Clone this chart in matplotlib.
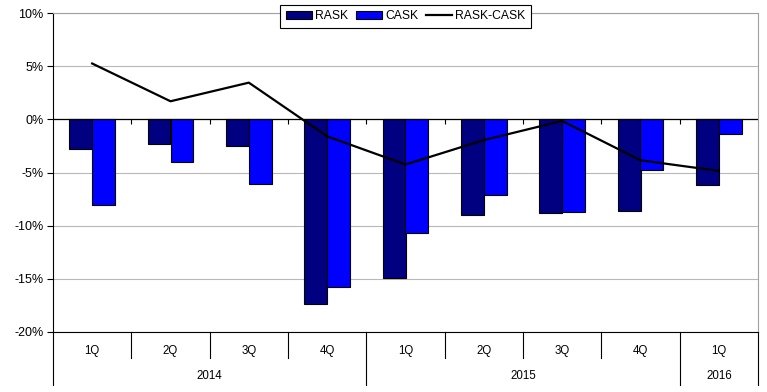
import matplotlib.pyplot as plt
import matplotlib.transforms as mtransforms
import numpy as np

plt.rcParams['font.family'] = ['Liberation Sans', 'DejaVu Sans']

quarters = ['1Q', '2Q', '3Q', '4Q', '1Q', '2Q', '3Q', '4Q', '1Q']
years = ['2014', '2015', '2016']
year_counts = [4, 4, 1]

rask = [-2.8, -2.35, -2.55, -17.4, -14.9, -9.0, -8.85, -8.6, -6.2]
cask = [-8.1, -4.0, -6.05, -15.8, -10.65, -7.1, -8.7, -4.75, -1.35]
diff = [5.25, 1.7, 3.45, -1.6, -4.25, -1.95, -0.15, -3.85, -4.85]

fig = plt.figure(figsize=(7.67, 3.92), dpi=100)
ax = fig.add_axes([53/767, 1 - 332/392, (758-53)/767, (332-13)/392])

x = np.arange(len(quarters))
w = 0.29
b1 = ax.bar(x - w/2, rask, w, color='#000080', edgecolor='black', linewidth=0.8, label='RASK', zorder=3)
b2 = ax.bar(x + w/2, cask, w, color='#0000ff', edgecolor='black', linewidth=0.8, label='CASK', zorder=3)
l1, = ax.plot(x, diff, color='black', linewidth=1.6, label='RASK-CASK', zorder=4)

ax.set_xlim(-0.5, len(quarters) - 0.5)
ax.set_ylim(-20, 10)
ticks = np.arange(-20, 11, 5)
ax.set_yticks(ticks)
ax.set_yticklabels([f'{t}%' for t in ticks], fontsize=9)
ax.tick_params(axis='y', direction='out', length=4, width=0.8, pad=3)
ax.set_xticks([])
ax.grid(axis='y', color='#b8b8b8', linewidth=0.8, zorder=0)

ax.spines['top'].set_color('#a0a0a0')
ax.spines['right'].set_color('#a0a0a0')
ax.spines['left'].set_color('black')
ax.spines['bottom'].set_color('black')
for s in ax.spines.values():
    s.set_linewidth(0.8)

# zero axis with small tick marks at category boundaries
ax.axhline(0, color='black', linewidth=0.9, zorder=5)
bounds = np.arange(0.5, len(quarters) - 0.5)
ax.vlines(bounds, -0.4, 0, color='black', linewidth=0.8, zorder=5)

# multi-level category labels below the plot
trans = mtransforms.blended_transform_factory(ax.transData, ax.transAxes)
px = 1 / (332 - 13)
for i, q in enumerate(quarters):
    ax.text(x[i], -19 * px, q, transform=trans, ha='center', va='center', fontsize=8.3)

ends = np.cumsum(year_counts) - 0.5
starts = ends - np.array(year_counts)
for i in range(len(quarters) + 1):
    xb = i - 0.5
    if xb in list(starts) or xb in list(ends):
        y_end = -53 * px
    else:
        y_end = -26 * px
    ax.plot([xb, xb], [0, y_end], transform=trans, color='black', linewidth=0.8, clip_on=False)

for yr, s, e in zip(years, starts, ends):
    ax.text((s + e) / 2, -44 * px, yr, transform=trans, ha='center', va='center', fontsize=8.3)

leg = ax.legend([b1, b2, l1], ['RASK', 'CASK', 'RASK-CASK'],
                loc='upper center', bbox_to_anchor=(0.5, 1 + 8 * px), ncol=3, fontsize=8.7,
                frameon=True, fancybox=False, edgecolor='black', framealpha=1,
                handlelength=2.2, handletextpad=0.25, columnspacing=0.6,
                borderpad=0.45, borderaxespad=0)
leg.get_frame().set_linewidth(0.8)
leg.set_zorder(10)

fig.savefig('out.png', dpi=100)
